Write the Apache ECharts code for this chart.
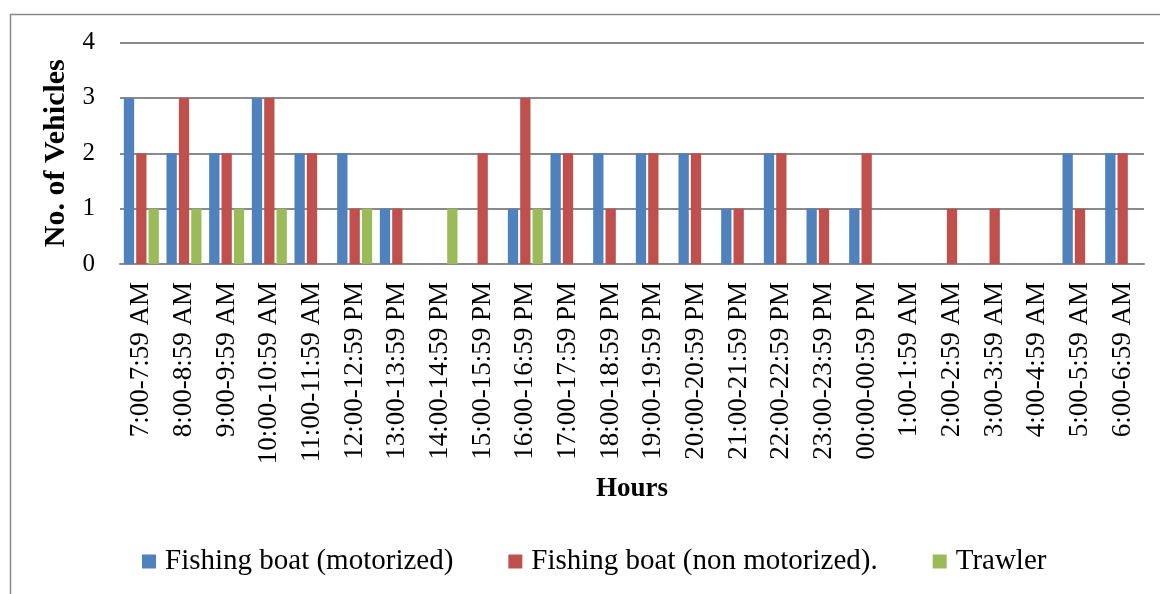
<!DOCTYPE html>
<html>
<head>
<meta charset="utf-8">
<script src="https://cdn.jsdelivr.net/npm/echarts@6/dist/echarts.min.js"></script>
<style>
html,body{margin:0;padding:0;background:#fff;}
#c{width:1160px;height:594px;}
</style>
</head>
<body>
<div id="c"></div>
<script>
var categories = ["7:00-7:59 AM","8:00-8:59 AM","9:00-9:59 AM","10:00-10:59 AM","11:00-11:59 AM","12:00-12:59 PM","13:00-13:59 PM","14:00-14:59 PM","15:00-15:59 PM","16:00-16:59 PM","17:00-17:59 PM","18:00-18:59 PM","19:00-19:59 PM","20:00-20:59 PM","21:00-21:59 PM","22:00-22:59 PM","23:00-23:59 PM","00:00-00:59 PM","1:00-1:59 AM","2:00-2:59 AM","3:00-3:59 AM","4:00-4:59 AM","5:00-5:59 AM","6:00-6:59 AM"];
var motorized    = [3,2,2,3,2,2,1,0,0,1,2,2,2,2,1,2,1,1,0,0,0,0,2,2];
var nonMotorized = [2,3,2,3,2,1,1,0,2,3,2,1,2,2,1,2,1,2,0,1,1,0,1,2];
var trawler      = [1,1,1,1,0,1,0,1,0,1,0,0,0,0,0,0,0,0,0,0,0,0,0,0];
var yTicks = [0,1,2,3,4];

var FONT = "Liberation Serif";
var chart = echarts.init(document.getElementById('c'), null, {renderer:'canvas'});
function mk(name, data, color){
  return {
    name: name, type: 'bar', data: data,
    barCategoryGap: '18%', barGap: '20%',
    itemStyle: {color: color},
    emphasis: {disabled: true}
  };
}
chart.setOption({
  animation: false,
  textStyle: {fontFamily: FONT},
  graphic: [{
    type: 'rect', left: 8, top: 12, silent: true,
    shape: {width: 1300, height: 700},
    style: {fill: 'none', stroke: '#8a8a8a', lineWidth: 1.5}
  }],
  grid: {left: 120, right: 16, top: 42.5, bottom: 330, containLabel: false},
  legend: {
    bottom: 13, left: 137, padding: 5,
    itemWidth: 14, itemHeight: 14, itemGap: 55,
    icon: 'rect',
    textStyle: {fontFamily: FONT, fontSize: 29, color: '#000', padding: [0,0,0,4]},
    data: ['Fishing boat (motorized)', 'Fishing boat (non motorized).', 'Trawler']
  },
  xAxis: {
    type: 'category', data: categories,
    name: 'Hours', nameLocation: 'middle', nameGap: 212,
    nameTextStyle: {fontFamily: FONT, fontSize: 27, fontWeight: 'bold', color: '#000'},
    axisLine: {show: true, lineStyle: {color: '#8a8a8a', width: 2}},
    axisTick: {show: false},
    axisLabel: {rotate: 90, interval: 0, margin: 18, fontFamily: FONT, fontSize: 27, color: '#000'}
  },
  yAxis: {
    type: 'value', min: yTicks[0], max: yTicks[yTicks.length-1], interval: 1,
    name: 'No. of Vehicles', nameLocation: 'middle', nameGap: 45, nameRotate: 90,
    nameTextStyle: {fontFamily: FONT, fontSize: 30, fontWeight: 'bold', color: '#000'},
    axisLine: {show: false}, axisTick: {show: false},
    splitLine: {lineStyle: {color: '#8a8a8a', width: 2}},
    axisLabel: {margin: 25, fontFamily: FONT, fontSize: 25, color: '#000'}
  },
  series: [
    mk('Fishing boat (motorized)', motorized, '#4F81BD'),
    mk('Fishing boat (non motorized).', nonMotorized, '#C0504D'),
    mk('Trawler', trawler, '#9BBB59')
  ]
});
</script>
</body>
</html>
